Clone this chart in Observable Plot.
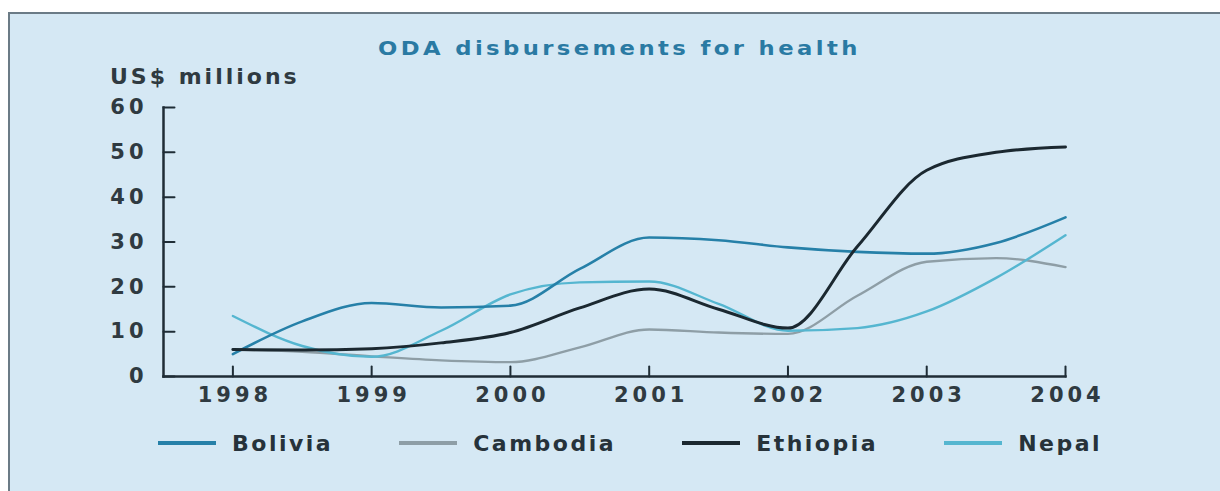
<!DOCTYPE html>
<html>
<head>
<meta charset="utf-8">
<script src="https://cdn.jsdelivr.net/npm/d3@7"></script>
<script src="https://cdn.jsdelivr.net/npm/@observablehq/plot@0.6"></script>
<style>
  html, body { margin: 0; padding: 0; background: #ffffff; width: 1220px; height: 491px; overflow: hidden; font-family: "DejaVu Sans", sans-serif; }
  #panel { position: absolute; left: 8px; top: 12px; width: 1212px; height: 479px; background: #d5e8f4; border-top: 2px solid #6b7b86; border-left: 2px solid #6b7b86; box-sizing: border-box; }
  #chart { position: absolute; left: 0; top: 0; }
  #chart svg text { letter-spacing: 4px; }
  #title { position: absolute; left: 378px; top: 36px; line-height: 24px; font-weight: bold; font-size: 20px; letter-spacing: 3px; color: #2a7aa3; white-space: nowrap; transform: scaleX(1.135); transform-origin: 0 50%; }
  #unit { position: absolute; left: 110px; top: 64px; line-height: 26px; font-weight: bold; font-size: 22px; letter-spacing: 3px; color: #2f3a41; white-space: nowrap; }
  #legend { position: absolute; left: 158px; top: 430px; height: 26px; display: flex; align-items: center; gap: 66px; }
  .item { display: flex; align-items: center; gap: 16px; font-weight: bold; font-size: 22px; letter-spacing: 2.5px; color: #26323a; white-space: nowrap; }
  .sw { width: 58px; height: 4px; }
</style>
</head>
<body>
<div id="panel"></div>
<div id="chart"></div>
<div id="title">ODA disbursements for health</div>
<div id="unit">US$ millions</div>
<div id="legend"></div>
<script>
// ---- data ----
const years = [1998, 1998.5, 1999, 1999.5, 2000, 2000.5, 2001, 2001.5, 2002, 2002.5, 2003, 2003.5, 2004];
const countries = ["Bolivia", "Cambodia", "Ethiopia", "Nepal"];
const bolivia  = [5.0, 12.3, 16.4, 15.4, 15.8, 24.0, 31.0, 30.4, 28.8, 27.8, 27.4, 29.8, 35.5];
const cambodia = [6.0, 5.5, 4.5, 3.6, 3.2, 6.5, 10.5, 9.8, 9.5, 18.0, 25.6, 26.4, 24.4];
const ethiopia = [6.0, 5.9, 6.2, 7.5, 9.8, 15.3, 19.5, 15.0, 10.8, 29.0, 46.0, 50.0, 51.2];
const nepal    = [13.5, 6.8, 4.4, 10.2, 18.3, 21.0, 21.2, 16.2, 10.2, 10.8, 14.5, 22.0, 31.5];
const xTicks = [1998, 1999, 2000, 2001, 2002, 2003, 2004];
const yTicks = [0, 10, 20, 30, 40, 50, 60];

// ---- styles ----
const seriesValues = [bolivia, cambodia, ethiopia, nepal];
const colorOf = { Bolivia: "#2680a8", Cambodia: "#8e9ea6", Ethiopia: "#1b2830", Nepal: "#55b6d0" };
const widthOf = { Bolivia: 2.6, Cambodia: 2.4, Ethiopia: 3, Nepal: 2.4 };
const axisColor = "#1f2d36";
const labelColor = "#2f3a41";

const rows = [];
countries.forEach((c, i) => seriesValues[i].forEach((v, j) => rows.push({ country: c, year: years[j], value: v })));

const tickShape = { draw(context, l) { context.moveTo(0, 0); context.lineTo(0, -l); } };

const drawOrder = ["Cambodia", "Nepal", "Bolivia", "Ethiopia"];

const plot = Plot.plot({
  width: 1220,
  height: 491,
  marginLeft: 163,
  marginRight: 155,
  marginTop: 107,
  marginBottom: 115,
  style: { background: "transparent", fontFamily: "DejaVu Sans, sans-serif" },
  x: { domain: [1997.5, 2004] },
  y: { domain: [0, 60] },
  marks: [
    ...drawOrder.map(c => Plot.line(rows.filter(r => r.country === c), {
      x: "year", y: "value", stroke: colorOf[c], strokeWidth: widthOf[c], curve: "monotone-x"
    })),
    Plot.frame({ anchor: "left", stroke: axisColor, strokeWidth: 2.5 }),
    Plot.frame({ anchor: "bottom", stroke: axisColor, strokeWidth: 2.5 }),
    Plot.vector(yTicks, { y: d => d, frameAnchor: "left", rotate: 90, anchor: "start", length: 11, shape: tickShape, stroke: axisColor, strokeWidth: 2 }),
    Plot.vector(xTicks, { x: d => d, frameAnchor: "bottom", rotate: 0, anchor: "start", length: 10, shape: tickShape, stroke: axisColor, strokeWidth: 2 }),
    Plot.axisY(yTicks, { anchor: "left", tickSize: 0, tickPadding: 16, fontSize: 21, fontWeight: "bold", color: labelColor, tickFormat: d => String(d), label: null }),
    Plot.axisX(xTicks, { anchor: "bottom", tickSize: 0, tickPadding: 11, dx: 2, fontSize: 21, fontWeight: "bold", color: labelColor, tickFormat: d => String(d), label: null })
  ]
});
document.getElementById("chart").appendChild(plot);

const legend = document.getElementById("legend");
countries.forEach(c => {
  const item = document.createElement("div");
  item.className = "item";
  const sw = document.createElement("div");
  sw.className = "sw";
  sw.style.background = colorOf[c];
  const t = document.createElement("span");
  t.textContent = c;
  item.appendChild(sw);
  item.appendChild(t);
  legend.appendChild(item);
});
</script>
</body>
</html>
